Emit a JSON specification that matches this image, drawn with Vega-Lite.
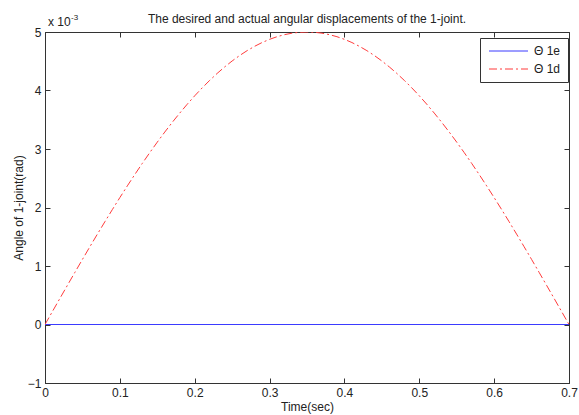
{
  "$schema": "https://vega.github.io/schema/vega-lite/v6.json",
  "width": 524,
  "height": 351,
  "autosize": {"type": "none"},
  "padding": {"left": 45, "top": 32, "right": 10, "bottom": 32},
  "background": "white",
  "title": {
    "text": "The desired and actual angular displacements of the 1-joint.",
    "fontSize": 12,
    "fontWeight": "normal",
    "color": "#222",
    "offset": -12
  },
  "datasets": {
    "joint": [
      {"t": 0, "angle": 0, "series": "Θ 1e"},
      {"t": 0.7, "angle": 0, "series": "Θ 1e"},
      {"t": 0.00, "angle": 0.0000000, "series": "Θ 1d"},
      {"t": 0.01, "angle": 0.0002243, "series": "Θ 1d"},
      {"t": 0.02, "angle": 0.0004482, "series": "Θ 1d"},
      {"t": 0.03, "angle": 0.0006711, "series": "Θ 1d"},
      {"t": 0.04, "angle": 0.0008927, "series": "Θ 1d"},
      {"t": 0.05, "angle": 0.0011126, "series": "Θ 1d"},
      {"t": 0.06, "angle": 0.0013301, "series": "Θ 1d"},
      {"t": 0.07, "angle": 0.0015451, "series": "Θ 1d"},
      {"t": 0.08, "angle": 0.0017568, "series": "Θ 1d"},
      {"t": 0.09, "angle": 0.0019651, "series": "Θ 1d"},
      {"t": 0.10, "angle": 0.0021694, "series": "Θ 1d"},
      {"t": 0.11, "angle": 0.0023694, "series": "Θ 1d"},
      {"t": 0.12, "angle": 0.0025645, "series": "Θ 1d"},
      {"t": 0.13, "angle": 0.0027545, "series": "Θ 1d"},
      {"t": 0.14, "angle": 0.0029389, "series": "Θ 1d"},
      {"t": 0.15, "angle": 0.0031174, "series": "Θ 1d"},
      {"t": 0.16, "angle": 0.0032897, "series": "Θ 1d"},
      {"t": 0.17, "angle": 0.0034553, "series": "Θ 1d"},
      {"t": 0.18, "angle": 0.0036139, "series": "Θ 1d"},
      {"t": 0.19, "angle": 0.0037653, "series": "Θ 1d"},
      {"t": 0.20, "angle": 0.0039092, "series": "Θ 1d"},
      {"t": 0.21, "angle": 0.0040451, "series": "Θ 1d"},
      {"t": 0.22, "angle": 0.0041728, "series": "Θ 1d"},
      {"t": 0.23, "angle": 0.0042922, "series": "Θ 1d"},
      {"t": 0.24, "angle": 0.0044029, "series": "Θ 1d"},
      {"t": 0.25, "angle": 0.0045048, "series": "Θ 1d"},
      {"t": 0.26, "angle": 0.0045977, "series": "Θ 1d"},
      {"t": 0.27, "angle": 0.0046812, "series": "Θ 1d"},
      {"t": 0.28, "angle": 0.0047553, "series": "Θ 1d"},
      {"t": 0.29, "angle": 0.0048198, "series": "Θ 1d"},
      {"t": 0.30, "angle": 0.0048746, "series": "Θ 1d"},
      {"t": 0.31, "angle": 0.0049196, "series": "Θ 1d"},
      {"t": 0.32, "angle": 0.0049547, "series": "Θ 1d"},
      {"t": 0.33, "angle": 0.0049798, "series": "Θ 1d"},
      {"t": 0.34, "angle": 0.0049950, "series": "Θ 1d"},
      {"t": 0.35, "angle": 0.0050000, "series": "Θ 1d"},
      {"t": 0.36, "angle": 0.0049950, "series": "Θ 1d"},
      {"t": 0.37, "angle": 0.0049798, "series": "Θ 1d"},
      {"t": 0.38, "angle": 0.0049547, "series": "Θ 1d"},
      {"t": 0.39, "angle": 0.0049196, "series": "Θ 1d"},
      {"t": 0.40, "angle": 0.0048746, "series": "Θ 1d"},
      {"t": 0.41, "angle": 0.0048198, "series": "Θ 1d"},
      {"t": 0.42, "angle": 0.0047553, "series": "Θ 1d"},
      {"t": 0.43, "angle": 0.0046812, "series": "Θ 1d"},
      {"t": 0.44, "angle": 0.0045977, "series": "Θ 1d"},
      {"t": 0.45, "angle": 0.0045048, "series": "Θ 1d"},
      {"t": 0.46, "angle": 0.0044029, "series": "Θ 1d"},
      {"t": 0.47, "angle": 0.0042922, "series": "Θ 1d"},
      {"t": 0.48, "angle": 0.0041728, "series": "Θ 1d"},
      {"t": 0.49, "angle": 0.0040451, "series": "Θ 1d"},
      {"t": 0.50, "angle": 0.0039092, "series": "Θ 1d"},
      {"t": 0.51, "angle": 0.0037653, "series": "Θ 1d"},
      {"t": 0.52, "angle": 0.0036139, "series": "Θ 1d"},
      {"t": 0.53, "angle": 0.0034553, "series": "Θ 1d"},
      {"t": 0.54, "angle": 0.0032897, "series": "Θ 1d"},
      {"t": 0.55, "angle": 0.0031174, "series": "Θ 1d"},
      {"t": 0.56, "angle": 0.0029389, "series": "Θ 1d"},
      {"t": 0.57, "angle": 0.0027545, "series": "Θ 1d"},
      {"t": 0.58, "angle": 0.0025645, "series": "Θ 1d"},
      {"t": 0.59, "angle": 0.0023694, "series": "Θ 1d"},
      {"t": 0.60, "angle": 0.0021694, "series": "Θ 1d"},
      {"t": 0.61, "angle": 0.0019651, "series": "Θ 1d"},
      {"t": 0.62, "angle": 0.0017568, "series": "Θ 1d"},
      {"t": 0.63, "angle": 0.0015451, "series": "Θ 1d"},
      {"t": 0.64, "angle": 0.0013301, "series": "Θ 1d"},
      {"t": 0.65, "angle": 0.0011126, "series": "Θ 1d"},
      {"t": 0.66, "angle": 0.0008927, "series": "Θ 1d"},
      {"t": 0.67, "angle": 0.0006711, "series": "Θ 1d"},
      {"t": 0.68, "angle": 0.0004482, "series": "Θ 1d"},
      {"t": 0.69, "angle": 0.0002243, "series": "Θ 1d"},
      {"t": 0.70, "angle": 0.0000000, "series": "Θ 1d"}
    ]
  },
  "config": {
    "font": "Liberation Sans",
    "view": {"stroke": "#333", "strokeWidth": 1},
    "axis": {
      "domainColor": "#333",
      "tickColor": "#333",
      "tickSize": -5,
      "labelColor": "#222",
      "labelFontSize": 12,
      "titleFontSize": 12,
      "titleFontWeight": "normal",
      "titleColor": "#222",
      "grid": false
    },
    "legend": {
      "title": null,
      "orient": "none",
      "legendX": 435,
      "legendY": 6,
      "symbolType": "M-0.8,0H7",
      "symbolSize": 100,
      "symbolStrokeWidth": 1,
      "labelFontSize": 12,
      "labelColor": "#222",
      "strokeColor": "#333",
      "fillColor": "white",
      "padding": 7,
      "rowPadding": 6,
      "labelOffset": 35
    }
  },
  "resolve": {"axis": {"x": "independent", "y": "independent"}},
  "layer": [
    {
      "data": {"name": "joint"},
      "mark": {"type": "line", "strokeWidth": 1, "clip": true},
      "encoding": {
        "x": {
          "field": "t",
          "type": "quantitative",
          "scale": {"domain": [0, 0.7], "nice": false, "zero": false},
          "axis": {
            "values": [0, 0.1, 0.2, 0.3, 0.4, 0.5, 0.6, 0.7],
            "format": ".1~f",
            "title": "Time(sec)",
            "labelPadding": 9,
            "titlePadding": 3,
            "labelFlush": false
          }
        },
        "y": {
          "field": "angle",
          "type": "quantitative",
          "scale": {"domain": [-0.001, 0.005], "nice": false, "zero": false},
          "axis": {
            "values": [-0.001, 0, 0.001, 0.002, 0.003, 0.004, 0.005],
            "labelExpr": "format(datum.value * 1000, '.0f')",
            "title": "Angle of  1-joint(rad)",
            "labelPadding": 9,
            "titlePadding": 2,
            "labelFlush": false
          }
        },
        "color": {
          "field": "series",
          "type": "nominal",
          "scale": {"domain": ["Θ 1e", "Θ 1d"], "range": ["#3b3bff", "#ff3b3b"]},
          "legend": {
            "encode": {
              "symbols": {"update": {"stroke": {"scale": "color", "field": "value"}}}
            }
          }
        },
        "strokeDash": {
          "field": "series",
          "type": "nominal",
          "scale": {"domain": ["Θ 1e", "Θ 1d"], "range": [[1, 0], [8, 3, 2, 3]]}
        }
      }
    },
    {
      "data": {"values": [{}]},
      "mark": {"type": "rule", "opacity": 0},
      "encoding": {
        "x": {
          "datum": 0,
          "type": "quantitative",
          "axis": {
            "orient": "top",
            "values": [0, 0.1, 0.2, 0.3, 0.4, 0.5, 0.6, 0.7],
            "labels": false,
            "domain": false,
            "title": null
          }
        },
        "y": {
          "datum": 0,
          "type": "quantitative",
          "axis": {
            "orient": "right",
            "values": [-0.001, 0, 0.001, 0.002, 0.003, 0.004, 0.005],
            "labels": false,
            "domain": false,
            "title": null
          }
        }
      }
    },
    {
      "data": {"values": [{}]},
      "mark": {"type": "text", "align": "left", "baseline": "alphabetic", "dx": 3, "dy": -6, "fontSize": 12, "color": "#222"},
      "encoding": {
        "x": {"datum": 0, "type": "quantitative", "axis": null},
        "y": {"datum": 0.005, "type": "quantitative", "axis": null},
        "text": {"value": "x 10"}
      }
    },
    {
      "data": {"values": [{}]},
      "mark": {"type": "text", "align": "left", "baseline": "alphabetic", "dx": 26, "dy": -12, "fontSize": 8, "color": "#222"},
      "encoding": {
        "x": {"datum": 0, "type": "quantitative", "axis": null},
        "y": {"datum": 0.005, "type": "quantitative", "axis": null},
        "text": {"value": "-3"}
      }
    }
  ]
}
